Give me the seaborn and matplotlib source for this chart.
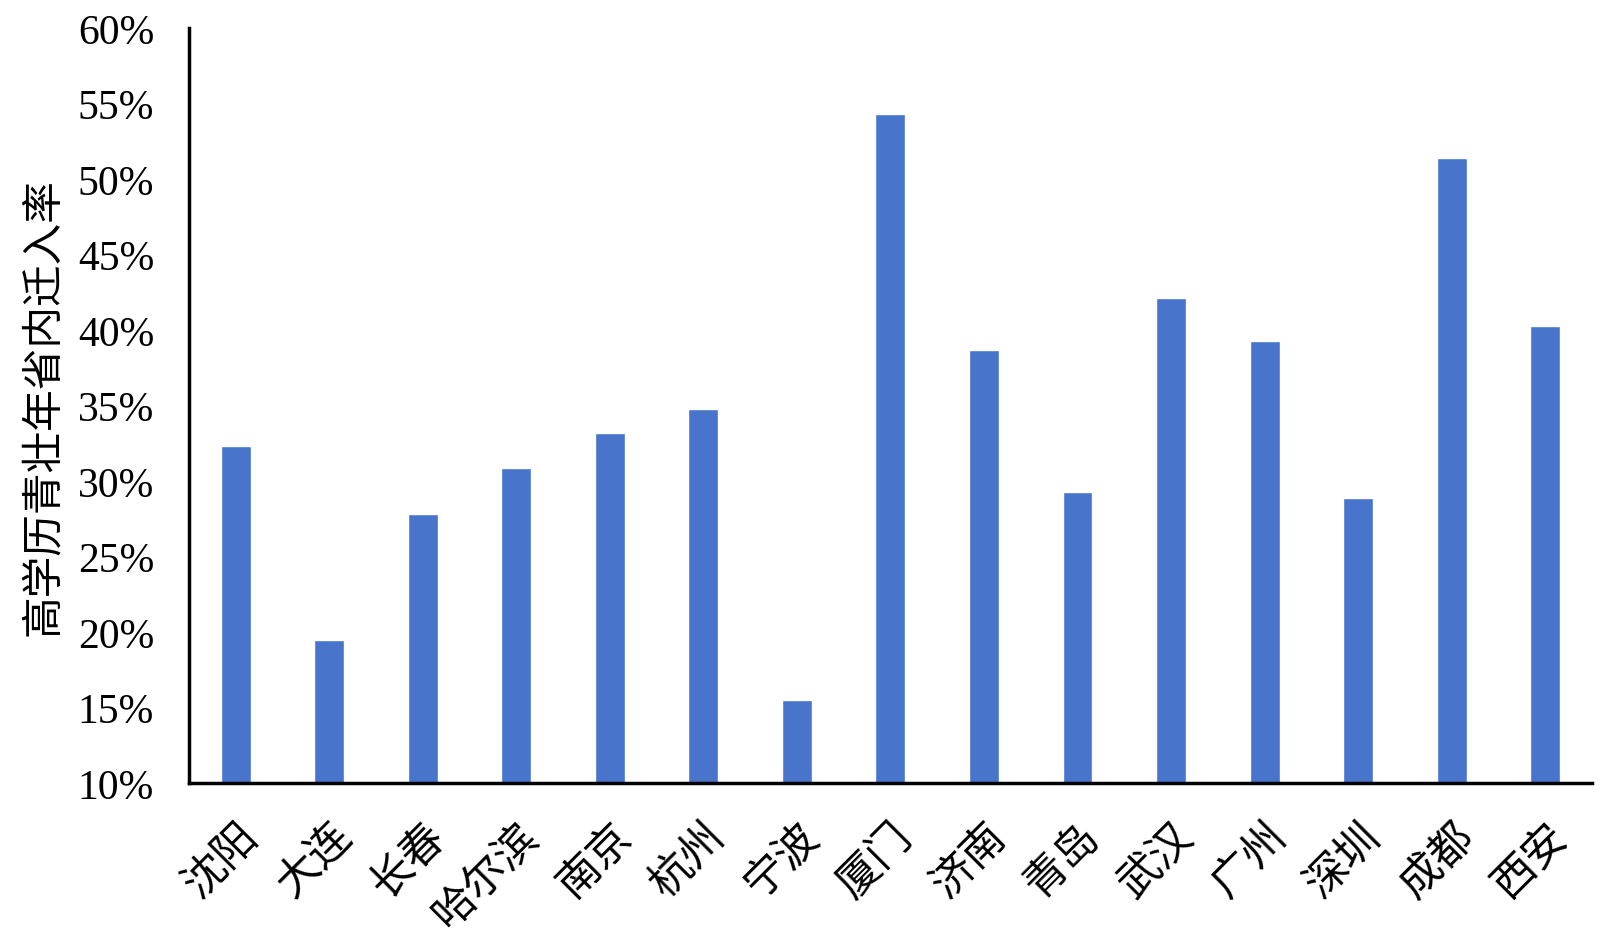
import matplotlib
matplotlib.use("Agg")
import matplotlib.pyplot as plt
import pandas as pd
import seaborn as sns
from matplotlib.ticker import FuncFormatter

cities = ["沈阳", "大连", "长春", "哈尔滨", "南京", "杭州", "宁波", "厦门",
          "济南", "青岛", "武汉", "广州", "深圳", "成都", "西安"]
rates = [32.3, 19.5, 27.8, 30.9, 33.2, 34.8, 15.5, 54.3,
         38.7, 29.3, 42.1, 39.3, 28.9, 51.4, 40.3]
y_label = "高学历青壮年省内迁入率"

sns.set_theme(style="white")
plt.rcParams["font.family"] = ["Liberation Serif", "Noto Sans CJK SC", "DejaVu Sans"]
plt.rcParams["text.color"] = "black"
plt.rcParams["axes.labelcolor"] = "black"
plt.rcParams["xtick.color"] = "black"
plt.rcParams["ytick.color"] = "black"

df = pd.DataFrame({"city": cities, "rate": rates})

fig = plt.figure(figsize=(16, 9.37), dpi=100)
ax = fig.add_axes([0.118, 0.163, 0.877, 0.806])

sns.barplot(data=df, x="city", y="rate", color="#4874CB", width=0.32,
            saturation=1, ax=ax)

ax.set_ylim(10, 60)
ax.set_yticks(range(10, 61, 5))
ax.yaxis.set_major_formatter(FuncFormatter(lambda v, _: f"{v:.0f}%"))
ax.set_xlim(-0.5, len(cities) - 0.5)

ax.set_xlabel("")
ax.set_ylabel(y_label, fontsize=30, family=["Noto Sans CJK SC"], labelpad=10)
ax.tick_params(axis="y", labelsize=30, length=0, pad=25)
ax.tick_params(axis="x", labelsize=31, length=0, pad=22)
for lbl in ax.get_xticklabels():
    lbl.set_rotation(45)
    lbl.set_ha("right")
    lbl.set_rotation_mode("anchor")
    lbl.set_family(["Noto Sans CJK SC"])

for side in ["top", "right"]:
    ax.spines[side].set_visible(False)
for side in ["left", "bottom"]:
    ax.spines[side].set_color("black")
    ax.spines[side].set_linewidth(2.5)

fig.savefig("out.png", dpi=100)
